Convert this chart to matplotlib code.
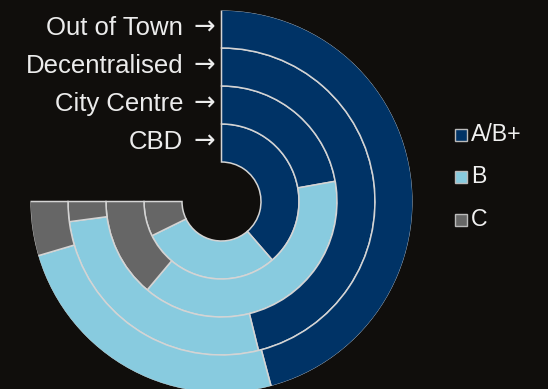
import numpy as np
import matplotlib.pyplot as plt
from matplotlib.patches import Rectangle

# rings from inside out, shares in % of the 270 degree sweep
rings = ["CBD", "City Centre", "Decentralised", "Out of Town"]
grades = ["A/B+", "B", "C"]
a_bplus = [51.5, 29.6, 61.5, 61.1]
b_grade = [38.8, 51.9, 35.7, 32.8]
c_grade = [9.7, 18.5, 2.8, 6.1]

colors = ["#003366", "#88cbdf", "#666666"]
bg = "#100e0c"

plt.rcParams["font.family"] = ["Liberation Sans", "DejaVu Sans"]

fig = plt.figure(figsize=(5.48, 3.89), dpi=100, facecolor=bg)

# polar axes placed so the centre sits at (221.5, 201.5) px, outer radius 191 px
W, H = 548, 389
cx, cy, R = 221.5, 201.5, 191
ax = fig.add_axes([(cx - R) / W, (H - cy - R) / H, 2 * R / W, 2 * R / H],
                  projection="polar")
ax.set_theta_zero_location("N")
ax.set_theta_direction(-1)
ax.set_ylim(0, R)
ax.set_axis_off()

inner = 39.5
ring_w = 38.0
sweep = np.deg2rad(270)

for i, name in enumerate(rings):
    vals = [a_bplus[i], b_grade[i], c_grade[i]]
    total = sum(vals)
    start = 0.0
    for v, col in zip(vals, colors):
        span = v / total * sweep
        ax.bar(start, ring_w, width=span, bottom=inner + i * ring_w,
               align="edge", color=col, edgecolor="#d4d4d4", linewidth=1.1)
        start += span
    r_mid = inner + i * ring_w + ring_w / 2
    ax.annotate(name, xy=(0, r_mid), xytext=(-27.7, 0.8),
                textcoords="offset points", ha="right", va="center",
                color="#ececec", fontsize=18.5)
    ax.annotate("\u2192", xy=(0, r_mid), xytext=(-4.7, 0.8),
                textcoords="offset points", ha="right", va="center",
                color="#ececec", fontsize=18.5, family="DejaVu Sans")

# legend
leg_y = [134.5, 176.5, 219.5]
for lab, col, y in zip(grades, colors, leg_y):
    fig.patches.append(Rectangle((454.5 / W, (H - y - 6.5) / H), 12 / W, 12 / H,
                                 transform=fig.transFigure, facecolor=col,
                                 edgecolor="#bbbbbb", linewidth=1.0))
    fig.text(471 / W, (H - y) / H, lab, color="#f0f0f0", fontsize=16.7,
             ha="left", va="center")

fig.savefig("out.png", dpi=100, facecolor=bg)
